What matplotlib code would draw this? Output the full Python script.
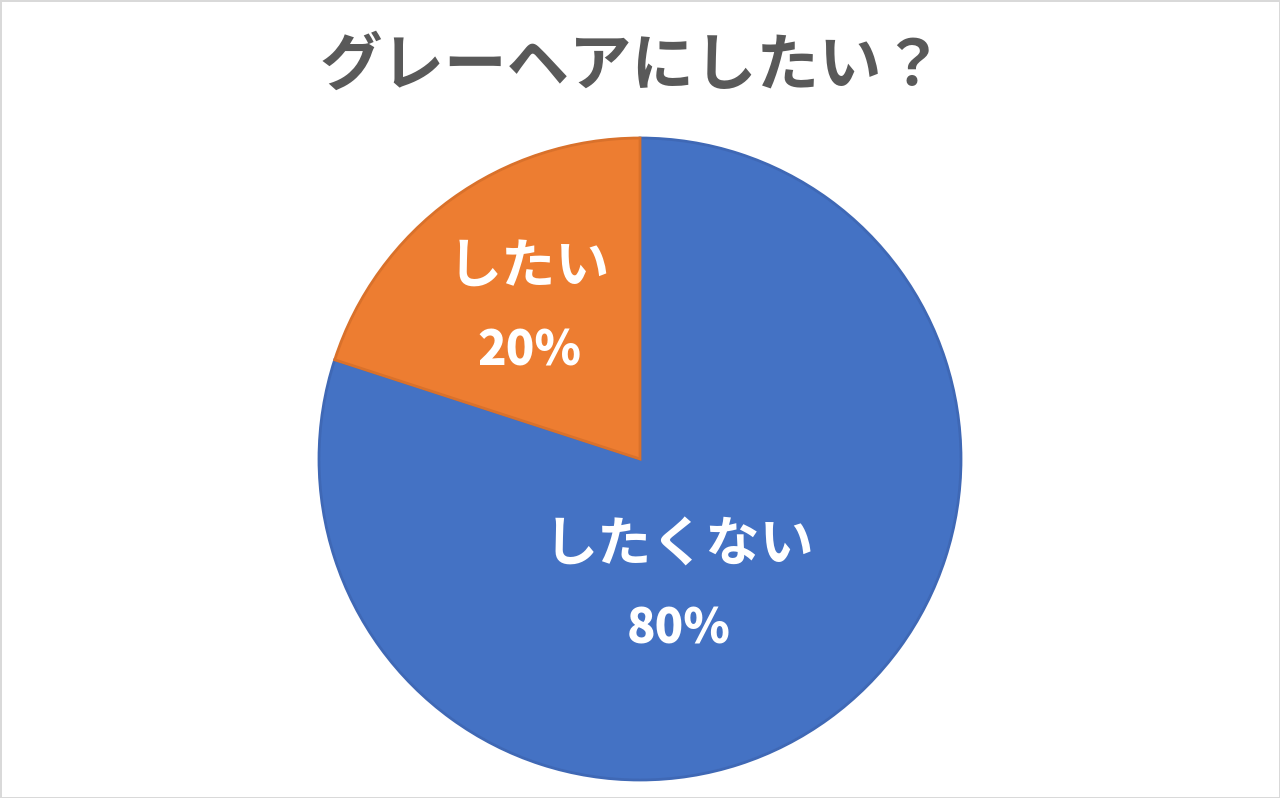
import matplotlib
matplotlib.use("Agg")
import matplotlib.pyplot as plt

plt.rcParams['font.family'] = ['Noto Sans CJK JP', 'DejaVu Sans']

title = "グレーヘアにしたい？"
categories = ["したくない", "したい"]
shares = [80, 20]
colors = ["#4472C4", "#ED7D31"]
edge_colors = ["#3F68B5", "#D9712B"]

fig = plt.figure(figsize=(12.8, 7.98), dpi=100, facecolor="white",
                 edgecolor="#D9D9D9", linewidth=2)

# pie area: radius ~321 px centred at (640, 459) from top
ax = fig.add_axes([(640 - 321) / 1280, (798 - 780) / 798, 642 / 1280, 642 / 798])
wedges, _ = ax.pie(shares, colors=colors, startangle=90, counterclock=False,
                   radius=1.0, wedgeprops=dict(linewidth=2))
for w, ec in zip(wedges, edge_colors):
    w.set_edgecolor(ec)
ax.set_xlim(-1, 1)
ax.set_ylim(-1, 1)
ax.set_aspect("equal")
ax.axis("off")

# label placement (Excel-style best fit), in units of the radius
label_pos = [(0.12, -0.40), (-0.345, 0.465)]
for (x, y), name, v in zip(label_pos, categories, shares):
    ax.text(x, y + 0.13, name, ha="center", va="center", color="white",
            fontsize=39, fontweight="bold")
    ax.text(x, y - 0.13, f"{v}%", ha="center", va="center", color="white",
            fontsize=34, fontweight="black")

fig.text(0.494, 1 - 66 / 798, title, ha="center", va="center",
         color="#595959", fontsize=45, fontweight="bold")

fig.savefig("out.png", dpi=100, facecolor="white", edgecolor=fig.get_edgecolor())
